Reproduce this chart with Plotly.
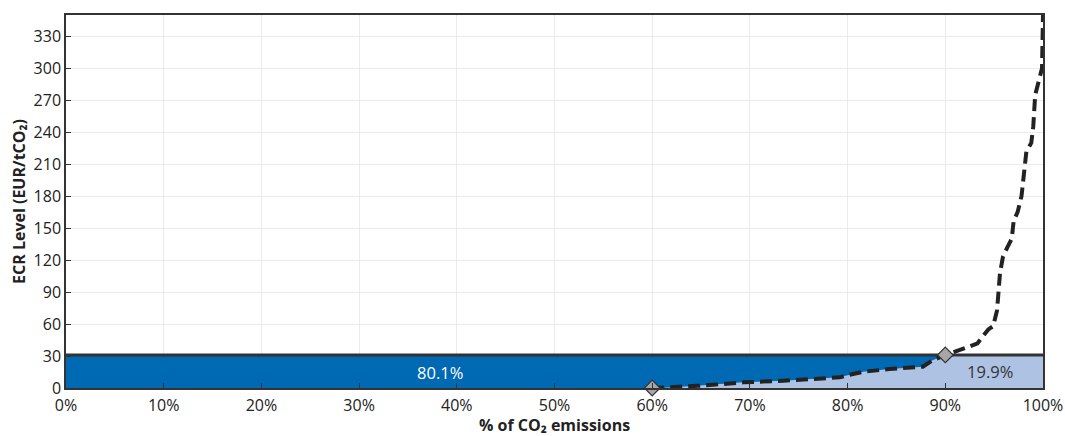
import numpy as np
import plotly.graph_objects as go

# Cumulative share of CO2 emissions (%) and the ECR level reached (EUR/tCO2)
share_pct = [60.0, 61.3, 64.6, 66.2, 69.3, 73.4, 76.9, 79.2, 80.0, 81.6, 84.3,
             87.7, 88.7, 90.0, 92.5, 93.3, 93.8, 94.4, 94.9, 95.3, 95.6, 95.9,
             96.3, 96.8, 97.0, 97.4, 97.8, 98.0, 98.3, 98.8, 99.0, 99.2, 99.6,
             99.9, 100.0]
ecr_level = [0, 0.3, 2, 3, 5.3, 6.8, 8.4, 10, 12, 15.2, 17.8,
             20, 26, 31, 39, 42, 48, 55, 58, 73, 108, 123,
             131, 140, 157, 165, 180, 200, 222, 230, 245, 275, 288,
             300, 350]

# Reference ECR level and the shares either side of it
threshold = 31
share_labels = ["80.1%", "19.9%"]
label_x = [38.3, 94.6]
label_y = [12.5, 13.4]

# Points marking where the curve leaves zero and where it crosses the threshold
marker_x = [60, 90]
marker_y = [0, 31]

x_ticks = list(range(0, 101, 10))
x_tick_text = [f"{v}%" for v in x_ticks]
y_ticks = list(range(0, 331, 30))

dark_blue = "#0069B4"
light_blue = "#AEC3E3"
ink = "#333333"
font = "Open Sans, Noto Sans, sans-serif"

fig = go.Figure()

# Full band below the threshold
fig.add_trace(go.Scatter(
    x=[x_ticks[0], x_ticks[-1]], y=[threshold, threshold],
    mode="lines", line=dict(width=0), fill="tozeroy", fillcolor=dark_blue,
    hoverinfo="skip", showlegend=False))

# Emissions already priced above their ECR level (area below the curve, capped)
capped = np.minimum(np.array(ecr_level, dtype=float), threshold)
fig.add_trace(go.Scatter(
    x=share_pct, y=capped, mode="lines", line=dict(width=0),
    fill="tozeroy", fillcolor=light_blue, hoverinfo="skip", showlegend=False))

# Threshold line
fig.add_trace(go.Scatter(
    x=[x_ticks[0], x_ticks[-1]], y=[threshold, threshold], mode="lines",
    line=dict(color=ink, width=3), hoverinfo="skip", showlegend=False))

# ECR curve
fig.add_trace(go.Scatter(
    x=share_pct, y=ecr_level, mode="lines",
    line=dict(color="#222222", width=4, dash="12px,6px"),
    showlegend=False))

# Diamond markers
fig.add_trace(go.Scatter(
    x=marker_x, y=marker_y, mode="markers",
    marker=dict(symbol="diamond", size=12, color="#A6A6A6",
                line=dict(color=ink, width=1.2)),
    showlegend=False, cliponaxis=False))

# Share labels
fig.add_trace(go.Scatter(
    x=label_x, y=label_y, mode="text", text=share_labels,
    textfont=dict(family=font, size=16.5, color=["#FFFFFF", ink]),
    showlegend=False))

fig.update_layout(
    width=1065, height=436,
    margin=dict(l=66, r=22, t=15, b=48),
    paper_bgcolor="white", plot_bgcolor="white",
    font=dict(family=font, size=16, color="#222222"),
)

fig.update_xaxes(
    range=[0, 100], tickvals=x_ticks, ticktext=x_tick_text, automargin=False,
    ticklabelstandoff=2,
    showgrid=True, gridcolor="#EBEBEB", gridwidth=1,
    showline=True, linecolor=ink, linewidth=1.5, mirror=True,
    ticks="inside", ticklen=5, tickcolor=ink, zeroline=False,
    title=dict(text="<b>% of CO₂ emissions</b>", standoff=0,
               font=dict(size=16)),
)
fig.update_yaxes(
    range=[0, 350], tickvals=y_ticks, automargin=False,
    showgrid=True, gridcolor="#EBEBEB", gridwidth=1,
    showline=True, linecolor=ink, linewidth=1.5, mirror=True,
    ticks="inside", ticklen=5, tickcolor=ink, zeroline=False,
    title=dict(text="<b>ECR Level (EUR/tCO₂)</b>", standoff=4,
               font=dict(size=16)),
)

fig.write_html("out.html")
